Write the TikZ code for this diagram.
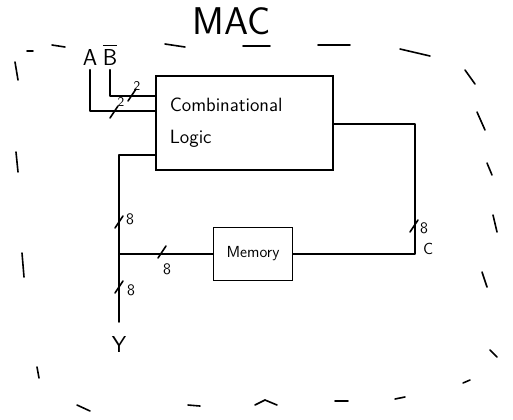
\documentclass[tikz,border=0pt]{standalone}
\usepackage{amsmath,amssymb}
\usetikzlibrary{positioning}

\begin{document}
\begin{tikzpicture}[x=0.75pt,y=0.75pt,yscale=-1,
	wire/.style={line width=1.2pt, line cap=round, line join=round},
	blockbox/.style={draw, line width=1.2pt, rectangle, inner sep=0pt},
	busmark/.style={line width=1.2pt, line cap=round},
	frame/.style={line width=1.2pt, line cap=round}]
	\useasboundingbox (0,0) rectangle (513,419);

	% Text Node
	\node (title) at (232,21) {\fontsize{29}{32}\selectfont\sffamily MAC};

	%Shape: Rectangle
	\node (comb) [blockbox, minimum width=132.75pt, minimum height=70.5pt, text width=112pt, align=left, font=\sffamily\Large] at (244.5,123) {Combinational\\[6pt]Logic};
	%Shape: Rectangle
	\node (mem) [blockbox, minimum width=59.25pt, minimum height=39.75pt, font=\sffamily\large] at (253,254) {Memory};

	% Text Node
	\node (A) [anchor=base, font=\sffamily\LARGE] at (90,65) {A};
	% Text Node
	\node (B) [anchor=base, font=\sffamily\LARGE] at (110,65) {$\overline{\text{B}}$};

	%Straight Lines
	\draw [wire] (A.south) |- (comb.west |- 0,111);
	\draw [wire] (B.south) |- (comb.west |- 0,96);
	\draw [wire] (comb.east |- 0,124) -| (mem.east -| 415,0) -- (mem.east);
	\coordinate (yout) at (119,322);
	\draw [wire] (comb.west |- 0,155) -| (yout);
	\draw [wire] (mem.west) -- (yout |- mem.west);

	% Text Node
	\node (Y) [below=7pt of yout, font=\sffamily\LARGE] {Y};

	% bus width marks
	\foreach \x/\y in {114/112, 132/95, 119/222, 162/252, 119/287, 414/226}
		\draw [busmark] (\x,\y) ++(-4,6) -- ++(8,-12);
	\node (wA) [font=\sffamily] at (121,102) {2};
	\node (wB) [font=\sffamily] at (137,86) {2};
	\node (wL) [font=\sffamily\large] at (130,219) {8};
	\node (wM) [font=\sffamily\large] at (167,269) {8};
	\node (wY) [font=\sffamily\large] at (131,290) {8};
	\node (wC) [font=\sffamily\large] at (424,228) {8};
	\node (C) [font=\sffamily\large] at (428,249) {C};

	%Dashed border, drawn by hand
	\foreach \xa/\ya/\xb/\yb in {27/51/33/51, 52/45/65/47, 165/44/185/47, 243/46/270/46, 318/45/350/45, 400/49/430/56,
		465/70/475/84, 477/112/485/130, 487/163/492/175, 493/215/497/232, 482/272/487/287, 490/350/497/357,
		463/383/470/380, 395/399/405/397, 335/401/348/401, 188/405/200/406, 77/405/90/411,
		37/367/39/378, 22/253/24/277, 16/152/18/172, 15/62/18/80}
		\draw [frame] (\xa,\ya) -- (\xb,\yb);
	\draw [frame] (255,405) -- (265,400) -- (277,405);
\end{tikzpicture}
\end{document}
